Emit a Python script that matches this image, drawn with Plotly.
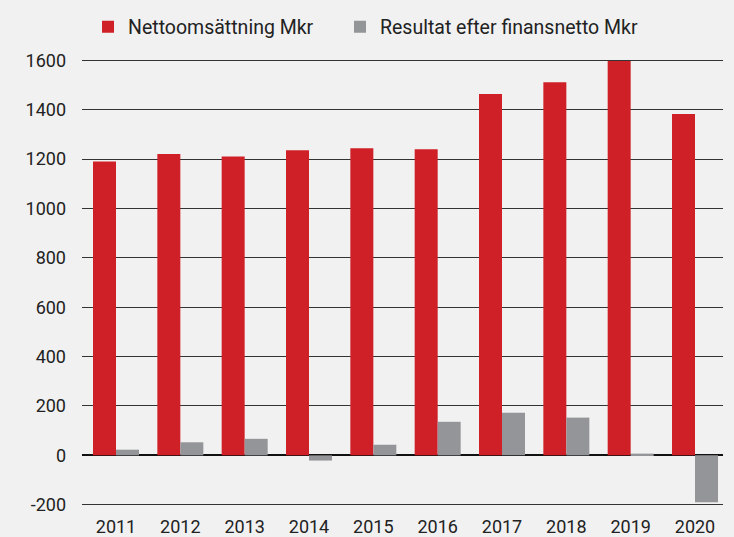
import plotly.graph_objects as go

years = ["2011", "2012", "2013", "2014", "2015", "2016", "2017", "2018", "2019", "2020"]
nettoomsattning = [1190, 1220, 1210, 1236, 1244, 1240, 1463, 1511, 1597, 1382]
resultat = [23, 53, 67, -21, 43, 136, 173, 153, 7, -190]
y_ticks = [-200, 0, 200, 400, 600, 800, 1000, 1200, 1400, 1600]
y_tick_labels = ["-200", "0", "200", "400", "600", "800", "1000", "1200", "1400", "1600"]

RED = "#cf2027"
GRAY = "#939598"
BG = "#f1f1f1"
FONT = "Roboto"
TXT = "#222222"

fig = go.Figure()
fig.add_trace(go.Bar(x=years, y=nettoomsattning, name="Nettoomsättning Mkr",
                     marker=dict(color=RED, line=dict(width=0)), legend="legend"))
fig.add_trace(go.Bar(x=years, y=resultat, name="Resultat efter finansnetto Mkr",
                     marker=dict(color=GRAY, line=dict(width=0)), legend="legend2"))

legend_common = dict(orientation="h", xanchor="left", yref="container", y=0.986,
                     yanchor="top", font=dict(family=FONT, size=19.5, color=TXT),
                     bgcolor="rgba(0,0,0,0)", itemwidth=30)

fig.update_layout(
    width=734, height=537,
    margin=dict(l=82, r=11, t=59, b=31, autoexpand=False),
    paper_bgcolor=BG, plot_bgcolor=BG,
    font=dict(family=FONT, size=18, color=TXT),
    barmode="group", bargap=0.285, bargroupgap=0,
    showlegend=True,
    legend=dict(x=0.0094, **legend_common),
    legend2=dict(x=0.4025, **legend_common),
    xaxis=dict(type="category", range=[-0.5285, 9.435], showgrid=False, zeroline=False,
               showline=False, ticks="", automargin=False, ticklabelstandoff=8,
               tickfont=dict(size=18, color=TXT)),
    yaxis=dict(range=[-205, 1605], tickvals=y_ticks, ticktext=y_tick_labels,
               showgrid=True, gridcolor="#333333", gridwidth=1,
               zeroline=True, zerolinecolor="#111111", zerolinewidth=2,
               showline=False, ticks="", ticklabelstandoff=15, automargin=False,
               tickfont=dict(size=18, color=TXT)),
)

fig.write_html("out.html", config={"displayModeBar": False},
               post_script="document.body.style.margin='0';")
